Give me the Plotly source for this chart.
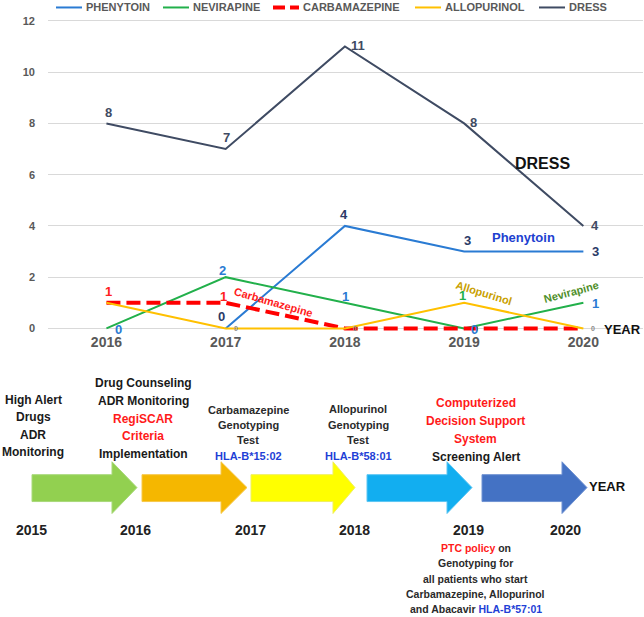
import plotly.graph_objects as go

W, H = 644, 617
FONT = "Liberation Sans, Arial, sans-serif"

# ---------------- data ----------------
years = ["2016", "2017", "2018", "2019", "2020"]
phenytoin = [None, 0, 4, 3, 3]
nevirapine = [0, 2, 1, 0, 1]
carbamazepine = [1, 1, 0, 0, 0]
allopurinol = [1, 0, 0, 1, 0]
dress = [8, 7, 11, 8, 4]
y_ticks = [0, 2, 4, 6, 8, 10, 12]

timeline_years = ["2015", "2016", "2017", "2018", "2019", "2020"]


def px(x):
    return x / W


def py(y):
    return 1 - y / H


fig = go.Figure()

series = [
    ("PHENYTOIN", phenytoin, dict(color="#2a7bd3", width=2)),
    ("NEVIRAPINE", nevirapine, dict(color="#22b04b", width=2)),
    ("CARBAMAZEPINE", carbamazepine, dict(color="#ff0000", width=4, dash="14px,6px")),
    ("ALLOPURINOL", allopurinol, dict(color="#ffc000", width=2)),
    ("DRESS", dress, dict(color="#3f4b63", width=2)),
]
for name, vals, line in series:
    fig.add_trace(go.Scatter(x=years, y=vals, name=name, mode="lines", line=line,
                             hoverinfo="skip", showlegend=False))

ann = []
shapes = []

# legend (drawn as shapes + texts, placed like the original)
legend_line_x = [56, 163, 273, 415, 539]
legend_y = 6.5
for (name, vals, line), lx in zip(series, legend_line_x):
    dash = "12px,5px" if line.get("dash") else "solid"
    shapes.append(dict(type="line", xref="paper", yref="paper",
                       x0=px(lx), x1=px(lx + 26), y0=py(legend_y), y1=py(legend_y),
                       line=dict(color=line["color"], width=min(line["width"], 4) if dash == "solid" else 4,
                                 dash=dash)))
    ann.append(dict(x=px(lx + 28), y=py(legend_y), xref="paper", yref="paper", text=name,
                    showarrow=False, xanchor="left", yanchor="middle",
                    font=dict(family=FONT, size=11, color="#595959", weight="bold")))

# data labels: (values, index, xshift, yshift, color, size)
label_specs = [
    (dress, 0, 2, 11, "#3f4b63", 13), (dress, 1, 1, 12, "#3f4b63", 13),
    (dress, 2, 13, 1, "#3f4b63", 13), (dress, 3, 9, 1, "#3f4b63", 13),
    (dress, 4, 12, 0, "#3f4b63", 13),
    (phenytoin, 1, -4, 12, "#2b3a67", 13), (phenytoin, 2, -1, 11, "#2b3a67", 13),
    (phenytoin, 3, 3, 11, "#2b3a67", 13), (phenytoin, 4, 12, 0, "#2b3a67", 13),
    (nevirapine, 0, 12, -1, "#2a7bd3", 13), (nevirapine, 1, -3, 7, "#2a7bd3", 13),
    (nevirapine, 2, 1, 6, "#2a7bd3", 13), (nevirapine, 3, 10, -1, "#2a7bd3", 13),
    (nevirapine, 4, 12, -1, "#2a7bd3", 13),
    (carbamazepine, 0, 2, 11, "#ff2020", 13), (carbamazepine, 1, -2, 6, "#ff2020", 13),
    (allopurinol, 3, -2, 7, "#22b04b", 13),
    (allopurinol, 1, 10, 0, "#8a8a8a", 7), (allopurinol, 2, 10, 0, "#8a8a8a", 7),
    (allopurinol, 4, 10, 0, "#8a8a8a", 7),
]
for vals, i, dx, dy, col, sz in label_specs:
    ann.append(dict(x=i, y=vals[i], xref="x", yref="y", text=str(vals[i]),
                    showarrow=False, xshift=dx, yshift=dy,
                    font=dict(family=FONT, size=sz, color=col, weight="bold")))

# series name labels in chart
chart_texts = [
    ("DRESS", 542, 163, 16, "#111111", 0),
    ("Phenytoin", 523, 238, 13, "#2040d0", 0),
    ("Carbamazepine", 273, 302, 11, "#ff1a1a", 16),
    ("Allopurinol", 484, 293, 11, "#c9a000", 17),
    ("Nevirapine", 571, 292, 11, "#4f8f2a", -15),
    ("YEAR", 622, 330, 13, "#111111", 0),
]
for t, x, y, sz, col, ang in chart_texts:
    ann.append(dict(x=px(x), y=py(y), xref="paper", yref="paper", text=t,
                    showarrow=False, textangle=ang, xanchor="center", yanchor="middle",
                    font=dict(family=FONT, size=sz, color=col, weight="bold")))

# ---------------- timeline ----------------
arrows = [
    (32, 112, 137, "#92d050", "#a8d97a"),
    (142, 221, 247, "#f5b700", "#f7c84a"),
    (251, 333, 355, "#ffff00", "#f0f060"),
    (367, 447, 472, "#12aef0", "#5cc6f3"),
    (482, 562, 587, "#4472c4", "#6f92d2"),
]
body_top, body_bot, head_top, head_bot = 476, 503, 463, 515
tip_y = (head_top + head_bot) / 2
for x0, xb, xt, fill, edge in arrows:
    pts = [(x0, body_top), (xb, body_top), (xb, head_top), (xt, tip_y),
           (xb, head_bot), (xb, body_bot), (x0, body_bot)]
    path = "M " + " L ".join(f"{px(a):.5f},{py(b):.5f}" for a, b in pts) + " Z"
    shapes.append(dict(type="path", path=path, xref="paper", yref="paper",
                       fillcolor=fill, line=dict(color=edge, width=1), layer="above"))

year_x = [32, 135, 250, 354, 468, 565]
for t, x in zip(timeline_years, year_x):
    ann.append(dict(x=px(x), y=py(532), xref="paper", yref="paper", text=t,
                    showarrow=False, xanchor="center", yanchor="middle",
                    font=dict(family=FONT, size=14, color="#222222", weight="bold")))

RED = "#ff1a1a"
BLUE = "#1f3fd6"
DARK = "#1a1a1a"
milestone_lines = [
    # text, x, y, size, color
    ("High Alert", 33, 401, 12, DARK), ("Drugs", 33, 418, 12, DARK),
    ("ADR", 33, 436, 12, DARK), ("Monitoring", 33, 453, 12, DARK),
    ("Drug Counseling", 143, 384, 12, DARK), ("ADR Monitoring", 143, 402, 12, DARK),
    ("RegiSCAR", 143, 420, 12, RED), ("Criteria", 143, 437, 12, RED),
    ("Implementation", 143, 455, 12, DARK),
    ("Carbamazepine", 248, 411, 11, "#2a2a2a"), ("Genotyping", 248, 426, 11, "#2a2a2a"),
    ("Test", 248, 441, 11, "#2a2a2a"), ("HLA-B*15:02", 248, 457, 11, BLUE),
    ("Allopurinol", 358, 410, 11, "#2a2a2a"), ("Genotyping", 358, 426, 11, "#2a2a2a"),
    ("Test", 358, 441, 11, "#2a2a2a"), ("HLA-B*58:01", 358, 457, 11, BLUE),
    ("Computerized", 476, 404, 12, RED), ("Decision Support", 476, 422, 12, RED),
    ("System", 476, 440, 12, RED), ("Screening Alert", 476, 458, 12, DARK),
    (f"<span style='color:{RED}'>PTC policy</span> on", 476, 550, 10.5, "#2a2a2a"),
    ("Genotyping for", 476, 565, 10.5, "#2a2a2a"),
    ("all patients who start", 476, 581, 10.5, "#2a2a2a"),
    ("Carbamazepine, Allopurinol", 476, 596, 10.5, "#2a2a2a"),
    (f"and Abacavir <span style='color:{BLUE}'>HLA-B*57:01</span>", 476, 611, 10.5, "#2a2a2a"),
    ("YEAR", 607, 488, 13, "#111111"),
]
for t, x, y, sz, col in milestone_lines:
    ann.append(dict(x=px(x), y=py(y), xref="paper", yref="paper", text=t,
                    showarrow=False, xanchor="center", yanchor="middle",
                    font=dict(family=FONT, size=sz, color=col, weight="bold")))

# ---------------- layout ----------------
y0_pix, unit = 329, 25.75
y_lo, y_hi = -0.15, 12.2
bot_pix = y0_pix - y_lo * unit
top_pix = y0_pix - y_hi * unit

fig.update_layout(
    width=W, height=H,
    margin=dict(l=0, r=0, t=0, b=0),
    paper_bgcolor="white", plot_bgcolor="white",
    font=dict(family=FONT, color="#595959"),
    showlegend=False,
    xaxis=dict(domain=[px(48), px(643)], type="category", range=[-0.49, 4.5],
               showgrid=False, zeroline=False, showline=False, ticks="",
               tickfont=dict(family=FONT, size=14, color="#595959", weight="bold")),
    yaxis=dict(domain=[py(bot_pix), py(top_pix)], range=[y_lo, y_hi],
               tickvals=y_ticks, showgrid=True, gridcolor="#d9d9d9", gridwidth=1,
               zeroline=False, showline=False, ticks="", ticklabelstandoff=12,
               tickfont=dict(family=FONT, size=11, color="#595959", weight="bold")),
    annotations=ann,
    shapes=shapes,
)

fig.write_html("out.html", config={"displayModeBar": False},
               post_script="document.body.style.margin='0';document.body.style.overflow='hidden';")
